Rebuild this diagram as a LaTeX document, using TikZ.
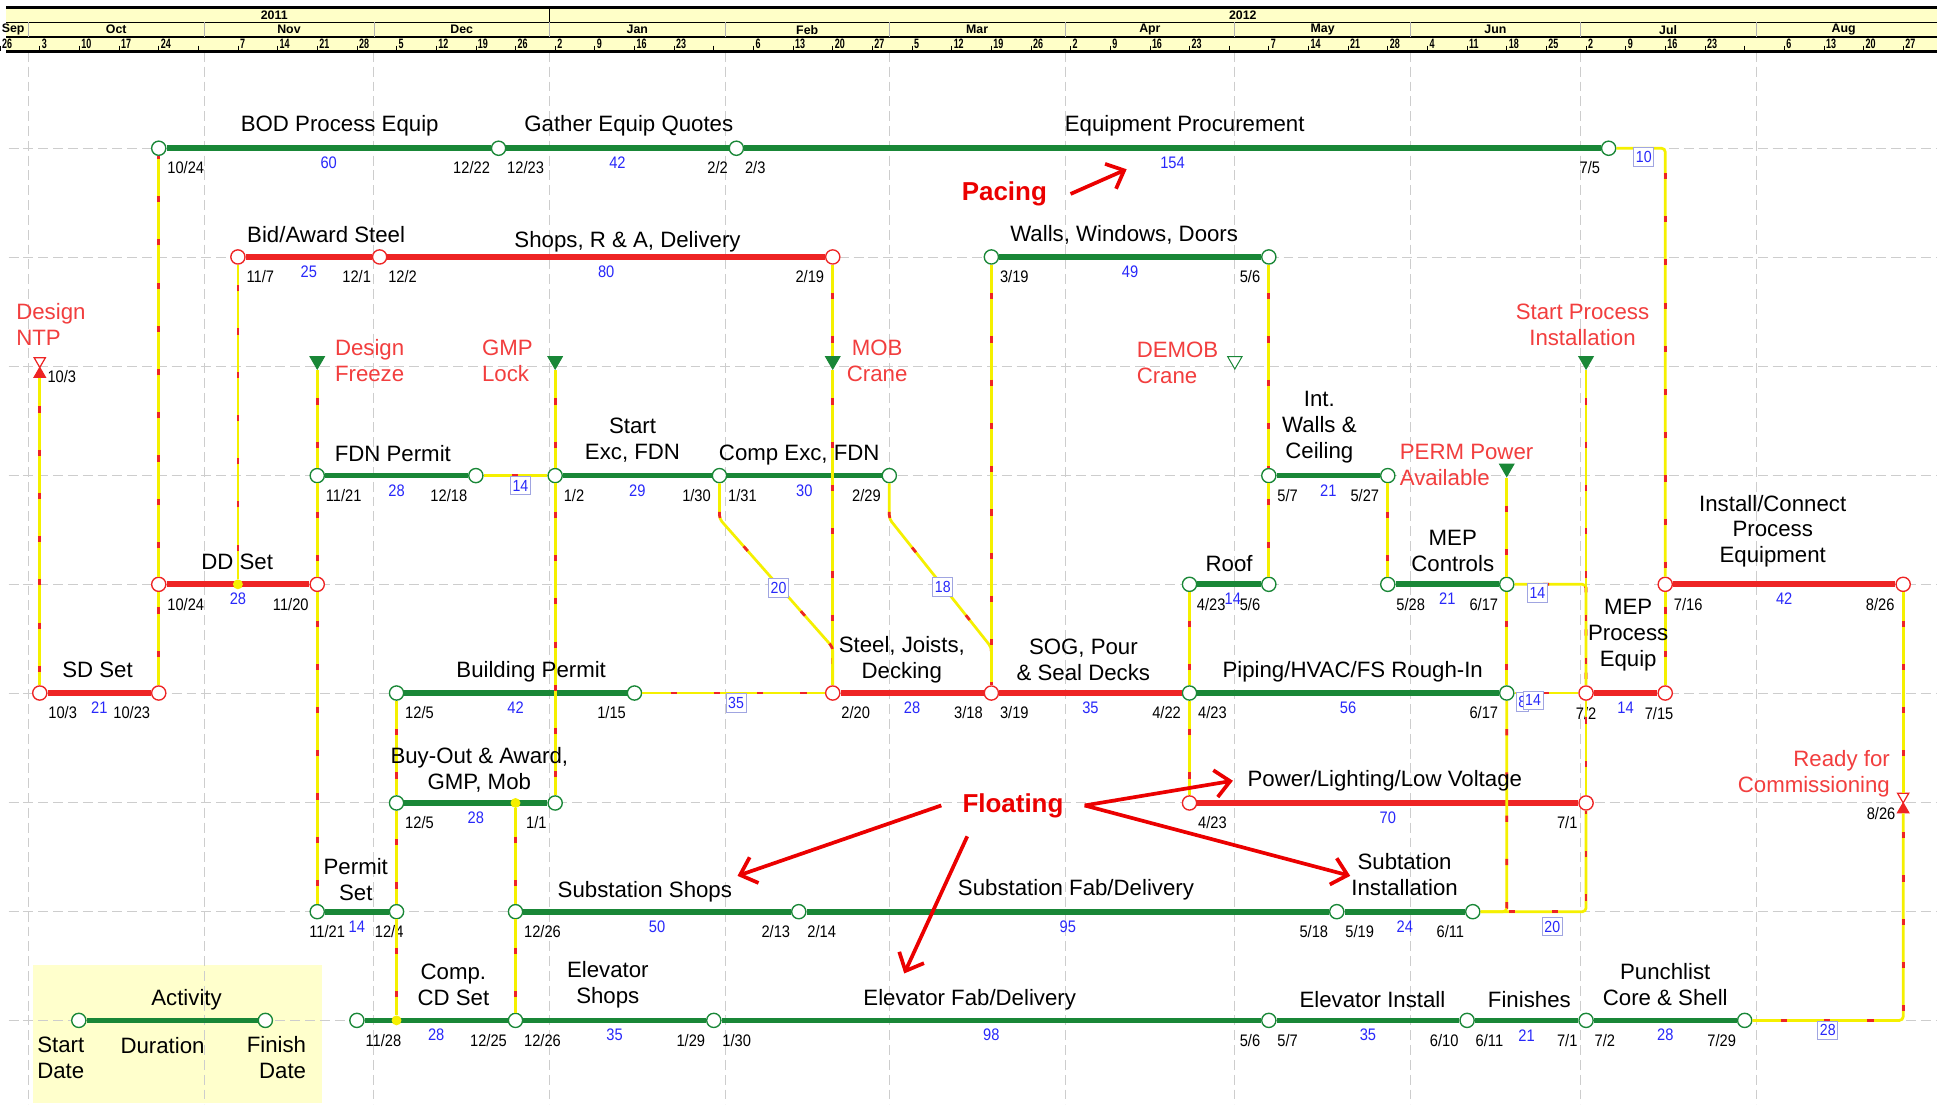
\documentclass[tikz,border=0pt]{standalone}
\usepackage{fontspec}
\setmainfont{Liberation Sans}
\newfontfamily\narrowfont{Liberation Sans}[FakeStretch=0.88]
\newfontfamily\dayfont{Liberation Sans}[FakeStretch=0.66]
\usetikzlibrary{shapes.geometric,arrows.meta}

\definecolor{evgreen}{RGB}{25,135,55}
\definecolor{evred}{RGB}{238,36,36}
\definecolor{msred}{RGB}{242,62,62}
\definecolor{calred}{RGB}{235,0,0}
\definecolor{lnkyel}{RGB}{245,240,0}
\definecolor{durblue}{RGB}{40,40,250}
\definecolor{lagedge}{RGB}{160,165,225}
\definecolor{gridgray}{RGB}{205,205,205}
\definecolor{headyel}{RGB}{255,255,200}
\definecolor{legyel}{RGB}{255,255,204}

\tikzset{
  ev/.style={circle,draw=evgreen,fill=white,line width=1.1pt,minimum size=11.5pt,inner sep=0pt},
  evr/.style={ev,draw=evred},
  gbar/.style={draw=evgreen,line width=4.6pt},
  rbar/.style={draw=evred,line width=4.6pt},
  dt/.style={font=\narrowfont\fontsize{13.5}{15}\selectfont,inner sep=0.5pt},
  dur/.style={dt,text=durblue,yshift=-12pt},
  sd/.style={label={[dt,anchor=west,yshift=-16pt]east:#1}},
  fd/.style={label={[dt,anchor=east,yshift=-16pt]west:#1}},
  md/.style={label={[dt,anchor=center,yshift=-10pt]below:#1}},
  lbl/.style={font=\fontsize{18}{21}\selectfont,align=center,inner sep=0pt},
  msl/.style={lbl,text=msred},
  callt/.style={font=\bfseries\fontsize{21}{24}\selectfont,text=calred,inner sep=1pt},
  calarrow/.style={draw=calred,line width=3pt,-{Straight Barb[length=12pt,width=22pt]}},
  lnk/.style={draw=lnkyel,line width=2.2pt,rounded corners=3pt,postaction={draw=evred,line width=2.2pt,dash pattern=on 5pt off 30pt,dash phase=12pt}},
  lag/.style={draw=lagedge,fill=white,text=durblue,solid,sharp corners,line width=0.7pt,font=\narrowfont\fontsize{13}{14}\selectfont,inner xsep=1.8pt,inner ysep=1pt,minimum height=15pt},
  ydot/.style={circle,fill=lnkyel,minimum size=8pt,inner sep=0pt},
  gms/.style={regular polygon,regular polygon sides=3,shape border rotate=180,draw=evgreen,fill=evgreen,line width=0.8pt,minimum size=13.5pt,inner sep=0pt},
  gmso/.style={gms,fill=white},
  hgt/.style={regular polygon,regular polygon sides=3,shape border rotate=180,draw=evred,fill=white,line width=1pt,minimum size=10.5pt,inner sep=0pt},
  hgb/.style={hgt,shape border rotate=0,fill=evred},
  gridln/.style={draw=gridgray,line width=0.7pt,dash pattern=on 8pt off 4pt},
  hd/.style={font=\bfseries\fontsize{10}{11}\selectfont,inner sep=0pt},
  hday/.style={font=\dayfont\bfseries\fontsize{11}{12}\selectfont,inner sep=0pt,anchor=west}
}

\begin{document}
\begin{tikzpicture}[x=1pt,y=-1pt]
\useasboundingbox (0,0) rectangle (1568,894);
\clip (0,0) rectangle (1568,894);
\fill[white] (0,0) rectangle (1568,894);
\fill[legyel] (27,781) rectangle (261,893);

\foreach \d in {0,31,61,92,123,152,183,213,244,274,305}
  \draw[gridln] ({23+4.585*\d},42) -- ({23+4.585*\d},894);
\foreach \r in {0,...,8}
  \draw[gridln] (7,{120+88.25*\r}) -- (1568,{120+88.25*\r});

% time scale
\fill[headyel] (5,6) rectangle (1568,41);
\draw[line width=1.8pt] (5,6) -- (1568,6);
\draw[line width=1.1pt] (5,18) -- (1568,18);
\draw[line width=1.1pt] (5,30) -- (1568,30);
\draw[line width=2pt] (5,41.5) -- (1568,41.5);
\draw[line width=1.2pt] (444.8,6) -- (444.8,18);
\foreach \d in {0,31,61,92,123,152,183,213,244,274,305}
  \draw[gray!60,line width=0.6pt] ({23+4.585*\d},18) -- ({23+4.585*\d},30);
\node[hd] (yr1) at (222,12) {2011};
\node[hd] (yr2) at (1006,12) {2012};
\node[hd,anchor=east] (mon0) at (20,24) {Sep};
\foreach \a/\b/\m [count=\i] in {0/31/Oct,31/61/Nov,61/92/Dec,92/123/Jan,123/152/Feb,152/183/Mar,183/213/Apr,213/244/May,244/274/Jun,274/305/Jul,305/336/Aug}
  \node[hd] (mon\i) at ({23+4.585*(\a+\b)/2},24) {\m};
\foreach \d in {-5,2,...,331}
  \draw[line width=0.6pt] ({23+4.585*\d},37) -- ({23+4.585*\d},41);
\foreach \d/\t [count=\i] in {-5/26,2/3,9/10,16/17,23/24,37/7,44/14,51/21,58/28,65/5,72/12,79/19,86/26,93/2,100/9,107/16,114/23,128/6,135/13,142/20,149/27,156/5,163/12,170/19,177/26,184/2,191/9,198/16,205/23,219/7,226/14,233/21,240/28,247/4,254/11,261/18,268/25,275/2,282/9,289/16,296/23,310/6,317/13,324/20,331/27}
  \node[hday] (day\i) at ({24.5+4.585*\d},35.5) {\t};

% events
\node[ev,sd=10/24] (bodS) at (128.5,120) {};
\node[ev,fd=12/22,sd=12/23] (bodF) at (403.6,120) {};
\node[ev,fd=2/2,sd=2/3] (gqF) at (596.1,120) {};
\node[ev,fd=7/5] (epF) at (1302.2,120) {};
\node[evr,sd=11/7] (baS) at (192.6,208) {};
\node[evr,fd=12/1,sd=12/2] (baF) at (307.3,208) {};
\node[evr,fd=2/19] (shF) at (674.1,208) {};
\node[ev,sd=3/19] (wwS) at (802.5,208) {};
\node[ev,fd=5/6] (wwF) at (1027.1,208) {};
\node[hgt] (ntpT) at (32.2,292.2) {};
\node[hgb,label={[dt,anchor=west,xshift=2pt,yshift=-2pt]east:10/3}] (ntpB) at (32.2,302.8) {};
\node[gms] (dfz) at (256.8,292) {};
\node[gms] (gmp) at (449.4,292) {};
\node[gms] (mob) at (674.1,292) {};
\node[gmso] (dmb) at (999.6,292) {};
\node[gms] (spi) at (1283.9,292) {};
\node[gms] (ppa) at (1219.7,379) {};
\node[ev,sd=11/21] (fpS) at (256.8,385) {};
\node[ev,fd=12/18] (fpF) at (385.2,385) {};
\node[ev,sd=1/2] (seS) at (449.4,385) {};
\node[ev,fd=1/30,sd=1/31] (seF) at (582.4,385) {};
\node[ev,fd=2/29] (ceF) at (719.9,385) {};
\node[ev,sd=5/7] (iwS) at (1027.1,385) {};
\node[ev,fd=5/27] (iwF) at (1123.4,385) {};
\node[evr,sd=10/24] (ddS) at (128.5,473) {};
\node[evr,fd=11/20] (ddF) at (256.8,473) {};
\node[ev,label={[dt,anchor=west,xshift=-1pt,yshift=-16pt]east:4/23}] (rfS) at (962.9,473) {};
\node[ev,fd=5/6] (rfF) at (1027.1,473) {};
\node[ev,sd=5/28] (mcS) at (1123.4,473) {};
\node[ev,fd=6/17] (mcF) at (1219.7,473) {};
\node[evr,sd=7/16] (icS) at (1348,473) {};
\node[evr,fd=8/26] (icF) at (1540.6,473) {};
\node[evr,sd=10/3] (ssS) at (32.2,561) {};
\node[evr,fd=10/23] (ssF) at (128.5,561) {};
\node[ev,sd=12/5] (bpS) at (321,561) {};
\node[ev,fd=1/15] (bpF) at (513.6,561) {};
\node[evr,sd=2/20] (stS) at (674.1,561) {};
\node[evr,fd=3/18,sd=3/19] (stF) at (802.5,561) {};
\node[ev,fd=4/22,sd=4/23] (sgF) at (962.9,561) {};
\node[ev,fd=6/17] (piF) at (1219.7,561) {};
\node[evr,md=7/2] (mpS) at (1283.9,561) {};
\node[evr,label={[dt,anchor=center,xshift=-5pt,yshift=-10pt]below:7/15}] (mpF) at (1348,561) {};
\node[ev,sd=12/5] (boS) at (321,650) {};
\node[ev,fd=1/1] (boF) at (449.4,650) {};
\node[evr,sd=4/23] (plS) at (962.9,650) {};
\node[evr,fd=7/1] (plF) at (1283.9,650) {};
\node[hgt] (rfcT) at (1540.6,644.7) {};
\node[hgb,label={[dt,anchor=east,xshift=-2pt,yshift=-3pt]west:8/26}] (rfcB) at (1540.6,655.3) {};
\node[ev,label={[dt,anchor=center,xshift=8pt,yshift=-10pt]below:11/21}] (psS) at (256.8,738) {};
\node[ev,label={[dt,anchor=center,xshift=-6pt,yshift=-10pt]below:12/4}] (psF) at (321,738) {};
\node[ev,sd=12/26] (sbS) at (417.3,738) {};
\node[ev,fd=2/13,sd=2/14] (sbF) at (646.6,738) {};
\node[ev,fd=5/18,sd=5/19] (sfF) at (1082.1,738) {};
\node[ev,fd=6/11] (siF) at (1192.2,738) {};
\node[ev,sd=11/28] (cdS) at (288.9,826) {};
\node[ev,fd=12/25,sd=12/26] (esS) at (417.3,826) {};
\node[ev,fd=1/29,sd=1/30] (esF) at (577.8,826) {};
\node[ev,fd=5/6,sd=5/7] (efF) at (1027.1,826) {};
\node[ev,fd=6/10,sd=6/11] (eiF) at (1187.6,826) {};
\node[ev,fd=7/1,sd=7/2] (fiF) at (1283.9,826) {};
\node[ev,fd=7/29] (puF) at (1412.3,826) {};
\node[ev] (lgS) at (63.8,826) {};
\node[ev] (lgF) at (214.8,826) {};

% activities
\draw[gbar] (bodS) -- node[dur] (bodD) {60} (bodF);
\draw[gbar] (bodF) -- node[dur] (gqD) {42} (gqF);
\draw[gbar] (gqF) -- node[dur] (epD) {154} (epF);
\draw[rbar] (baS) -- node[dur] (baD) {25} (baF);
\draw[rbar] (baF) -- node[dur] (shD) {80} (shF);
\draw[gbar] (wwS) -- node[dur] (wwD) {49} (wwF);
\draw[gbar] (fpS) -- node[dur] (fpD) {28} (fpF);
\draw[gbar] (seS) -- node[dur] (seD) {29} (seF);
\draw[gbar] (seF) -- node[dur] (ceD) {30} (ceF);
\draw[gbar] (iwS) -- node[dur] (iwD) {21} (iwF);
\draw[rbar] (ddS) -- node[dur] (ddD) {28} (ddF);
\draw[gbar] (rfS) -- node[dur,xshift=3pt] (rfD) {14} (rfF);
\draw[gbar] (mcS) -- node[dur] (mcD) {21} (mcF);
\draw[rbar] (icS) -- node[dur] (icD) {42} (icF);
\draw[rbar] (ssS) -- node[dur] (ssD) {21} (ssF);
\draw[gbar] (bpS) -- node[dur] (bpD) {42} (bpF);
\draw[rbar] (stS) -- node[dur] (stD) {28} (stF);
\draw[rbar] (stF) -- node[dur] (sgD) {35} (sgF);
\draw[gbar] (sgF) -- node[dur] (piD) {56} (piF);
\draw[rbar] (mpS) -- node[dur] (mpD) {14} (mpF);
\draw[gbar] (boS) -- node[dur] (boD) {28} (boF);
\draw[rbar] (plS) -- node[dur] (plD) {70} (plF);
\draw[gbar] (psS) -- node[dur] (psD) {14} (psF);
\draw[gbar] (sbS) -- node[dur] (sbD) {50} (sbF);
\draw[gbar] (sbF) -- node[dur] (sfD) {95} (sfF);
\draw[gbar] (sfF) -- node[dur] (siD) {24} (siF);
\draw[gbar] (cdS) -- node[dur] (cdD) {28} (esS);
\draw[gbar] (esS) -- node[dur] (esD) {35} (esF);
\draw[gbar] (esF) -- node[dur] (efD) {98} (efF);
\draw[gbar] (efF) -- node[dur] (eiD) {35} (eiF);
\draw[gbar] (eiF) -- node[dur] (fiD) {21} (fiF);
\draw[gbar] (fiF) -- node[dur] (puD) {28} (puF);
\draw[gbar] (lgS) -- (lgF);

\node[ydot] (dd1) at (192.6,473) {};
\node[ydot] (bo1) at (417.3,650) {};
\node[ydot] (cd1) at (321,826) {};
\coordinate (k1) at (582.4,420);
\coordinate (k2) at (674.1,524);
\coordinate (k3) at (719.9,420);
\coordinate (k4) at (802.5,524);

% logic ties
\draw[lnk] (ntpB) -- (ssS);
\draw[lnk] (ssF) -- (ddS);
\draw[lnk] (ddS) -- (bodS);
\draw[lnk] (dd1) -- (baS);
\draw[lnk] (dfz) -- (fpS);
\draw[lnk] (fpS) -- (ddF);
\draw[lnk] (ddF) -- (psS);
\draw[lnk] (bpS) -- (boS);
\draw[lnk] (boS) -- (psF);
\draw[lnk] (psF) -- (cd1);
\draw[lnk] (fpF) -- node[lag,xshift=4pt,yshift=-8pt] (g1) {14} (seS);
\draw[lnk] (gmp) -- (seS);
\draw[lnk] (seS) -- (boF);
\draw[lnk] (bo1) -- (sbS);
\draw[lnk] (sbS) -- (esS);
\draw[lnk] (bpF) -- node[lag,xshift=2pt,yshift=-8pt] (g2) {35} (stS);
\draw[lnk] (shF) -- (mob);
\draw[lnk] (mob) -- (stS);
\draw[lnk] (seF) -- (k1) -- node[lag,xshift=2pt,yshift=-4pt] (g3) {20} (k2) -- (stS);
\draw[lnk] (ceF) -- (k3) -- node[lag,xshift=2pt,yshift=-3pt] (g4) {18} (k4) -- (stF);
\draw[lnk] (wwS) -- (stF);
\draw[lnk] (wwF) -- (iwS);
\draw[lnk] (rfF) -- (iwS);
\draw[lnk] (rfS) -- (sgF);
\draw[lnk] (sgF) -- (plS);
\draw[lnk] (iwF) -- (mcS);
\draw[lnk] (ppa) -- (mcF);
\draw[lnk] (mcF) -- (piF);
\draw[lnk] (piF) |- (siF);
\draw[lnk] (mcF) -| node[lag,pos=.16,yshift=-7pt] (g5) {14} (mpS);
\draw[lnk] (piF) -- node[lag,pos=.12,yshift=-7pt] (g6) {8} node[lag,pos=.29,yshift=-6pt] (g7) {14} (mpS);
\draw[lnk] (spi) -- (mpS);
\draw[lnk] (plF) -- (mpS);
\draw[lnk] (siF) -| node[lag,pos=.34,yshift=-12pt] (g8) {20} (plF);
\draw[lnk] (epF) -| node[lag,pos=.28,yshift=-7pt] (g9) {10} (icS);
\draw[lnk] (mpF) -- (icS);
\draw[lnk] (icF) -- (rfcT);
\draw[lnk] (puF) -| node[lag,pos=.25,yshift=-8pt] (g10) {28} (rfcB);

% activity names
\node[lbl] (lBod) at (275,102) {BOD Process Equip};
\node[lbl] (lGq) at (509,102) {Gather Equip Quotes};
\node[lbl] (lEp) at (959,102) {Equipment Procurement};
\node[lbl] (lBa) at (264,190) {Bid/Award Steel};
\node[lbl] (lSh) at (508,196) {Shops, R \& A, Delivery};
\node[lbl] (lWw) at (910,190) {Walls, Windows, Doors};
\node[lbl] (lFp) at (318,367) {FDN Permit};
\node[lbl] (lSe) at (512,356) {Start\\Exc, FDN};
\node[lbl] (lCe) at (647,368) {Comp Exc, FDN};
\node[lbl] (lIw) at (1068,346) {Int.\\Walls \&\\Ceiling};
\node[lbl] (lDd) at (192,455) {DD Set};
\node[lbl] (lRf) at (995,456) {Roof};
\node[lbl] (lMc) at (1176,446) {MEP\\Controls};
\node[lbl] (lIc) at (1435,430) {Install/Connect\\Process\\Equipment};
\node[lbl] (lSs) at (79,542) {SD Set};
\node[lbl] (lBp) at (430,544) {Building Permit};
\node[lbl] (lSt) at (730,534) {Steel, Joists,\\Decking};
\node[lbl] (lSg) at (877,534) {SOG, Pour\\\& Seal Decks};
\node[lbl] (lPi) at (1095,544) {Piping/HVAC/FS Rough-In};
\node[lbl] (lMp) at (1318,514) {MEP\\Process\\Equip};
\node[lbl] (lBo) at (388,623) {Buy-Out \& Award,\\GMP, Mob};
\node[lbl] (lPl) at (1121,632) {Power/Lighting/Low Voltage};
\node[lbl] (lPs) at (288,712) {Permit\\Set};
\node[lbl] (lSb) at (522,722) {Substation Shops};
\node[lbl] (lSf) at (871,720) {Substation Fab/Delivery};
\node[lbl] (lSi) at (1137,708) {Subtation\\Installation};
\node[lbl] (lCd) at (367,797) {Comp.\\CD Set};
\node[lbl] (lEs) at (492,797) {Elevator\\Shops};
\node[lbl] (lEf) at (785,809) {Elevator Fab/Delivery};
\node[lbl] (lEi) at (1111,809) {Elevator Install};
\node[lbl] (lFi) at (1238,809) {Finishes};
\node[lbl] (lPu) at (1348,797) {Punchlist\\Core \& Shell};
\node[lbl] (lAct) at (151,809) {Activity};
\node[lbl,align=left,anchor=west] (lSd) at (30,856) {Start\\Date};
\node[lbl] (lDu) at (131.6,846) {Duration};
\node[lbl,align=right,anchor=east] (lFd) at (248,856) {Finish\\Date};

% milestones
\node[msl,align=left,anchor=west] (lNtp) at (13,263) {Design\\NTP};
\node[msl,align=left,anchor=west] (lDfz) at (271,292) {Design\\Freeze};
\node[msl,align=left,anchor=west] (lGmp) at (390,292) {GMP\\Lock};
\node[msl] (lMob) at (710,292) {MOB\\Crane};
\node[msl,align=left,anchor=west] (lDmb) at (920,294) {DEMOB\\Crane};
\node[msl] (lSpi) at (1281,263) {Start Process\\Installation};
\node[msl,align=left,anchor=west] (lPpa) at (1133,376) {PERM Power\\Available};
\node[msl,align=right,anchor=east] (lRfc) at (1530,626) {Ready for\\Commissioning};

% notes
\node[callt] (pac) at (813,157) {Pacing};
\coordinate (tPac) at (912,137);
\draw[calarrow] ([xshift=18pt]pac.east) -- (tPac);
\node[callt] (flt) at (820,652) {Floating};
\coordinate (tSb) at (597,709);
\coordinate (tEf) at (732,788);
\coordinate (tPl) at (998,632);
\coordinate (tSi) at (1093,709);
\draw[calarrow] ([xshift=-16pt]flt.west) -- (tSb);
\draw[calarrow] ([xshift=-37pt,yshift=-25pt]flt.center) -- (tEf);
\draw[calarrow] ([xshift=16pt]flt.east) -- (tPl);
\draw[calarrow] ([xshift=16pt]flt.east) -- (tSi);
\end{tikzpicture}
\end{document}
